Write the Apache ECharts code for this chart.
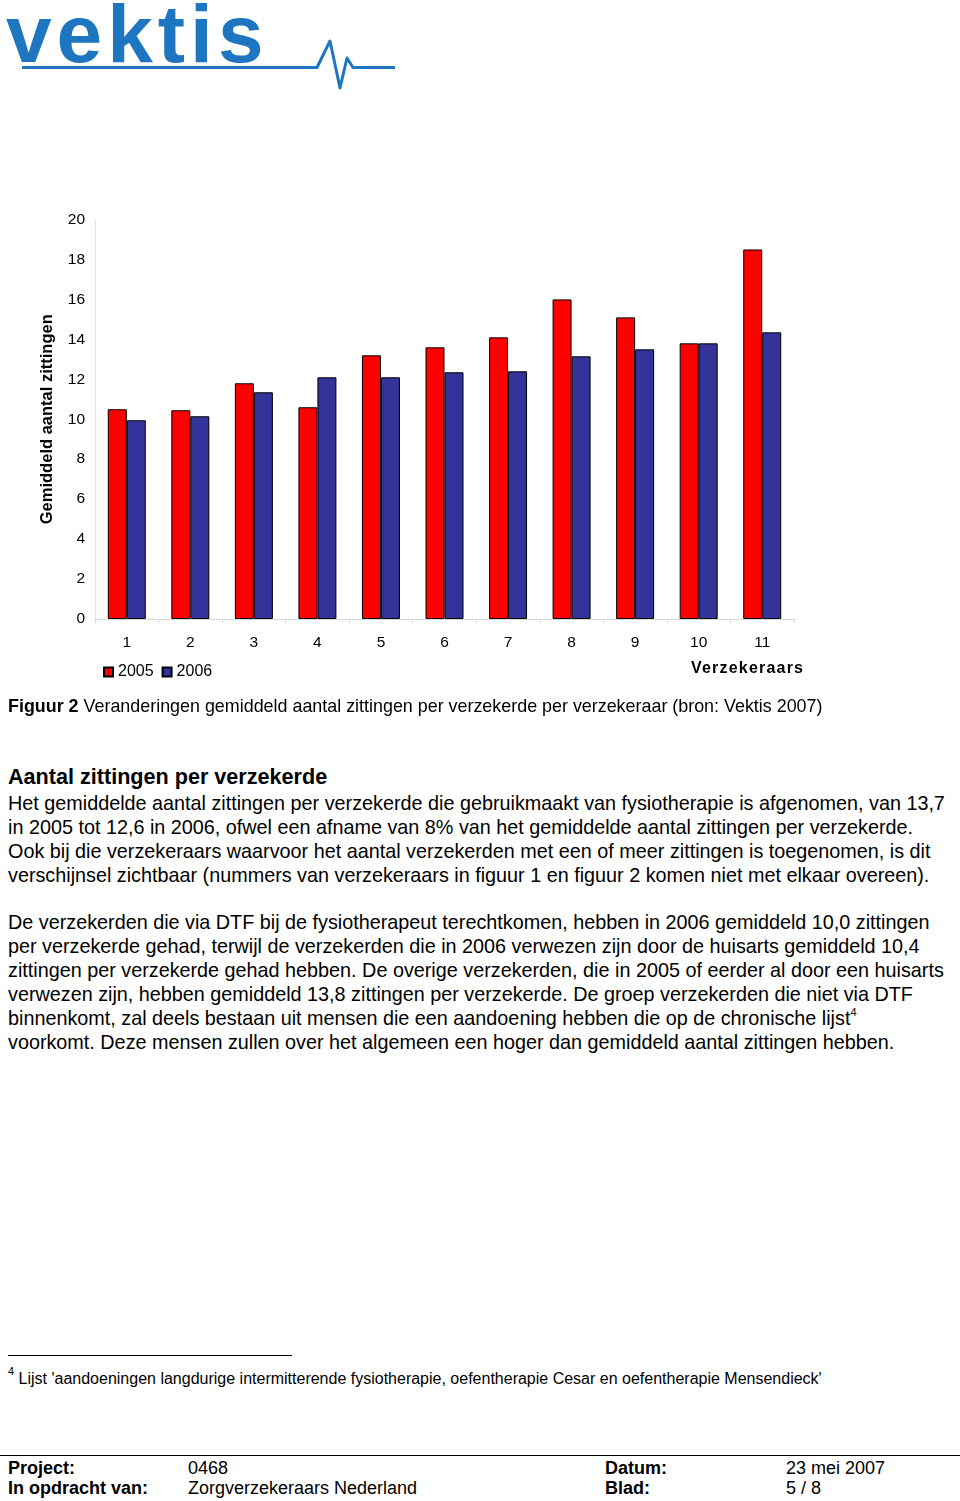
<!DOCTYPE html>
<html>
<head>
<meta charset="utf-8">
<script src="https://cdn.jsdelivr.net/npm/echarts@6/dist/echarts.min.js"></script>
<style>
  html, body { margin: 0; padding: 0; background: #fff; }
  body { width: 960px; height: 1501px; position: relative; overflow: hidden; font-family: "Liberation Sans", Arial, sans-serif; color: #000; }
  #chart { position: absolute; left: 0; top: 0; width: 960px; height: 700px; }
  .abs { position: absolute; white-space: nowrap; }
  #xname { right: 157px; top: 659px; font-size: 16px; font-weight: bold; letter-spacing: 1.2px; margin-right: -1.2px; }
  #caption { left: 8px; top: 696px; font-size: 17.9px; }
  #heading { left: 8px; top: 764px; font-size: 21.6px; font-weight: bold; }
  .para { left: 8px; font-size: 19.8px; line-height: 24px; }
  #p1 { top: 791px; }
  #p2 { top: 910px; }
  sup { font-size: 11px; line-height: 0; vertical-align: 9px; }
  #fnline { left: 8px; top: 1355px; width: 284px; height: 0; border-top: 1px solid #000; }
  #footnote { left: 8px; top: 1370px; font-size: 16px; }
  #footline { left: 0; top: 1455px; width: 960px; height: 0; border-top: 1.5px solid #000; }
  .ft { font-size: 18px; line-height: 20px; }
  .b { font-weight: bold; }
</style>
</head>
<body>
<svg class="abs" style="left:0;top:0" width="400" height="100" viewBox="0 0 400 100">
  <text x="6" y="62" font-family="Liberation Sans, Arial, sans-serif" font-weight="bold" font-size="82" letter-spacing="5" fill="#1e76c0">vektis</text>
  <polyline points="22,67.5 317,67.5 330,41 340,88 347,58 353,67.5 395,67.5" fill="none" stroke="#1e76c0" stroke-width="3" stroke-linejoin="round"/>
</svg>
<div id="chart"></div>
<div class="abs" id="xname">Verzekeraars</div>
<div class="abs" id="caption"><b>Figuur 2</b> Veranderingen gemiddeld aantal zittingen per verzekerde per verzekeraar (bron: Vektis 2007)</div>
<div class="abs" id="heading">Aantal zittingen per verzekerde</div>
<div class="abs para" id="p1">Het gemiddelde aantal zittingen per verzekerde die gebruikmaakt van fysiotherapie is afgenomen, van 13,7<br>in 2005 tot 12,6 in 2006, ofwel een afname van 8% van het gemiddelde aantal zittingen per verzekerde.<br>Ook bij die verzekeraars waarvoor het aantal verzekerden met een of meer zittingen is toegenomen, is dit<br>verschijnsel zichtbaar (nummers van verzekeraars in figuur 1 en figuur 2 komen niet met elkaar overeen).</div>
<div class="abs para" id="p2">De verzekerden die via DTF bij de fysiotherapeut terechtkomen, hebben in 2006 gemiddeld 10,0 zittingen<br>per verzekerde gehad, terwijl de verzekerden die in 2006 verwezen zijn door de huisarts gemiddeld 10,4<br>zittingen per verzekerde gehad hebben. De overige verzekerden, die in 2005 of eerder al door een huisarts<br>verwezen zijn, hebben gemiddeld 13,8 zittingen per verzekerde. De groep verzekerden die niet via DTF<br>binnenkomt, zal deels bestaan uit mensen die een aandoening hebben die op de chronische lijst<sup>4</sup><br>voorkomt. Deze mensen zullen over het algemeen een hoger dan gemiddeld aantal zittingen hebben.</div>
<div class="abs" id="fnline"></div>
<div class="abs" id="footnote"><sup>4</sup> Lijst 'aandoeningen langdurige intermitterende fysiotherapie, oefentherapie Cesar en oefentherapie Mensendieck'</div>
<div class="abs" id="footline"></div>
<div class="abs ft b" style="left:8px;top:1458px">Project:</div>
<div class="abs ft" style="left:188px;top:1458px">0468</div>
<div class="abs ft b" style="left:605px;top:1458px">Datum:</div>
<div class="abs ft" style="left:786px;top:1458px">23 mei 2007</div>
<div class="abs ft b" style="left:8px;top:1478px">In opdracht van:</div>
<div class="abs ft" style="left:188px;top:1478px">Zorgverzekeraars Nederland</div>
<div class="abs ft b" style="left:605px;top:1478px">Blad:</div>
<div class="abs ft" style="left:786px;top:1478px">5 / 8</div>
<script>
const categories = ['1','2','3','4','5','6','7','8','9','10','11'];
const seriesNames = ['2005','2006'];
const values2005 = [10.5, 10.45, 11.8, 10.6, 13.2, 13.6, 14.1, 16.0, 15.1, 13.8, 18.5];
const values2006 = [9.95, 10.15, 11.35, 12.1, 12.1, 12.35, 12.4, 13.15, 13.5, 13.8, 14.35];
const yTicks = {min: 0, max: 20, interval: 2};
const yAxisTitle = 'Gemiddeld aantal zittingen';

const font = '"Liberation Sans", Arial, sans-serif';
const chart = echarts.init(document.getElementById('chart'), null, {renderer: 'canvas'});
chart.setOption({
  animation: false,
  textStyle: {fontFamily: font},
  legend: {
    left: 103, top: 664, padding: 0, itemGap: 8, itemWidth: 9, itemHeight: 9,
    icon: 'rect',
    textStyle: {fontFamily: font, fontSize: 16, color: '#000'},
    data: seriesNames
  },
  grid: {left: 95, top: 219.5, width: 699, height: 399.5, containLabel: false},
  xAxis: {
    type: 'category', data: categories,
    axisLine: {show: true, lineStyle: {color: '#d8d8d8', width: 1}},
    axisTick: {show: true, length: 4, lineStyle: {color: '#d8d8d8'}},
    axisLabel: {margin: 16, fontSize: 15.5, color: '#000', fontFamily: font},
    splitLine: {show: false}
  },
  yAxis: {
    type: 'value', min: yTicks.min, max: yTicks.max, interval: yTicks.interval,
    name: yAxisTitle, nameLocation: 'middle', nameGap: 39,
    nameTextStyle: {fontSize: 16.5, fontWeight: 'bold', color: '#000', fontFamily: font},
    axisLine: {show: true, lineStyle: {color: '#e4e4e4', width: 1}},
    axisTick: {show: false},
    axisLabel: {margin: 10, fontSize: 15.5, color: '#000', fontFamily: font},
    splitLine: {show: false}
  },
  series: [
    {name: seriesNames[0], type: 'bar', data: values2005, barWidth: 19, barGap: '0%',
     itemStyle: {color: '#ff0000', borderColor: '#000', borderWidth: 1}},
    {name: seriesNames[1], type: 'bar', data: values2006, barWidth: 19, barGap: '0%',
     itemStyle: {color: '#333399', borderColor: '#000', borderWidth: 1}}
  ]
});
</script>
</body>
</html>
